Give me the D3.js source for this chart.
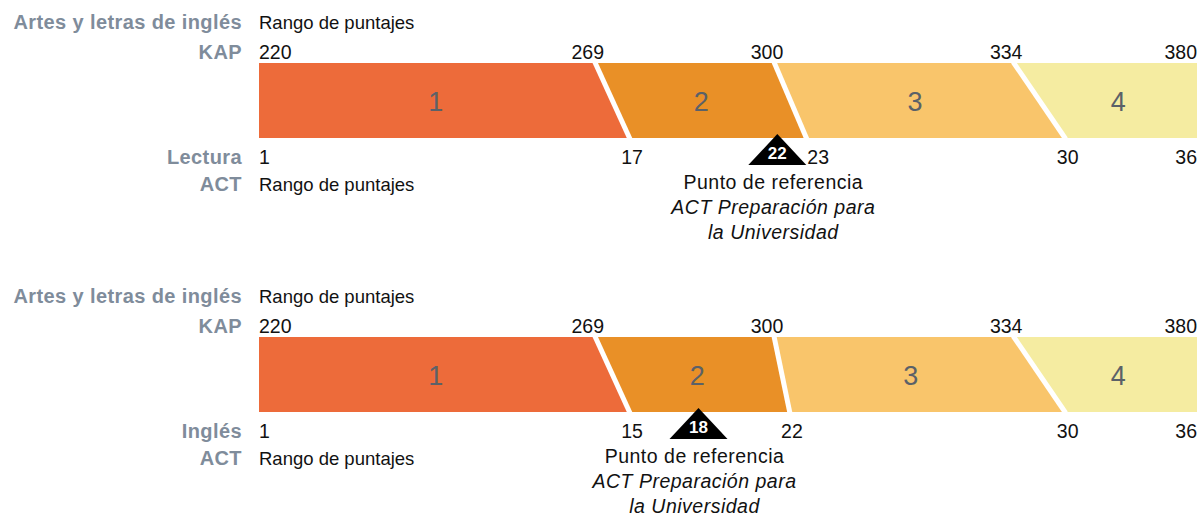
<!DOCTYPE html>
<html lang="es">
<head>
<meta charset="UTF-8">
<script src="https://cdn.jsdelivr.net/npm/d3@7/dist/d3.min.js"></script>
<style>
  body { margin: 0; background: #fff; }
  text { font-family: "Liberation Sans", Arial, Helvetica, sans-serif; }
</style>
</head>
<body>
<script>
// datos
const kapSubject = "Artes y letras de inglés";
const actSubjects = ["Lectura", "Inglés"];
const levels = ["1", "2", "3", "4"];
const kapCuts = [220, 269, 300, 334, 380];
const actCutsLectura = [1, 17, 23, 30, 36];
const actCutsIngles = [1, 15, 22, 30, 36];
const benchmarks = [22, 18];
const rangeLabel = "Rango de puntajes";
const noteLines = ["Punto de referencia", "ACT Preparación para", "la Universidad"];

// el esquema no es proporcional: fracciones del ancho de la barra para cada corte
const kapStops = [0, 0.358, 0.549, 0.804, 1];
const actStopsList = [
    [0, 0.3955, 0.584, 0.860, 1],
    [0, 0.3955, 0.566, 0.860, 1]
];
const colors = ["#ed6b3a", "#e99027", "#f9c56b", "#f5eca1"];
const grey = "#7f8c9b";

const width = 1202, height = 517;
const x0 = 259, x1 = 1197;
const barH = 75;
const panelTops = [63, 337];
const labelX = 242;

const svg = d3.select("body").append("svg").attr("width", width).attr("height", height);

const panels = [
    {act: actSubjects[0], cuts: actCutsLectura, stops: actStopsList[0], bench: benchmarks[0], top: panelTops[0]},
    {act: actSubjects[1], cuts: actCutsIngles, stops: actStopsList[1], bench: benchmarks[1], top: panelTops[1]}
];

panels.forEach(p => {
    const top = p.top, bottom = top + barH;
    const kap = d3.scaleLinear().domain(kapCuts).range(kapStops.map(f => x0 + f * (x1 - x0)));
    const act = d3.scaleLinear().domain(p.cuts).range(p.stops.map(f => x0 + f * (x1 - x0)));
    const g = svg.append("g");

    // etiquetas de la izquierda
    const left = [
        {t: kapSubject, y: top - 34},
        {t: "KAP", y: top - 4},
        {t: p.act, y: bottom + 26},
        {t: "ACT", y: bottom + 53}
    ];
    g.selectAll(".lbl").data(left).enter().append("text")
        .attr("x", labelX).attr("y", d => d.y)
        .attr("text-anchor", "end")
        .attr("fill", grey).attr("font-weight", "bold")
        .attr("font-size", 20).attr("letter-spacing", 0.4)
        .text(d => d.t);

    g.selectAll(".rng").data([top - 34, bottom + 53]).enter().append("text")
        .attr("x", x0).attr("y", d => d)
        .attr("font-size", 18.5).attr("fill", "#111")
        .text(rangeLabel);

    // bandas
    const bands = levels.map((l, i) => ({
        level: l,
        pts: [[kap(kapCuts[i]), top], [kap(kapCuts[i + 1]), top],
              [act(p.cuts[i + 1]), bottom], [act(p.cuts[i]), bottom]]
    }));
    g.selectAll(".band").data(bands).enter().append("polygon")
        .attr("points", d => d.pts.map(q => q.join(",")).join(" "))
        .attr("fill", (d, i) => colors[i]);

    // separadores blancos
    g.selectAll(".sep").data(kapCuts.slice(1, -1)).enter().append("line")
        .attr("x1", (d, i) => kap(d)).attr("y1", top - 1)
        .attr("x2", (d, i) => act(p.cuts[i + 1])).attr("y2", bottom + 1)
        .attr("stroke", "#fff").attr("stroke-width", 5);

    g.selectAll(".num").data(bands).enter().append("text")
        .attr("x", d => (d.pts[0][0] + d.pts[3][0] + d.pts[1][0] + d.pts[2][0]) / 4)
        .attr("y", top + 48)
        .attr("text-anchor", "middle")
        .attr("font-size", 27).attr("fill", "#5b6168")
        .text(d => d.level);

    // punto de referencia
    const bx = act(p.bench);
    const triW = 58, triH = 31, apex = bottom - 4;
    g.append("path")
        .attr("d", d3.line()([[bx, apex], [bx + triW / 2, apex + triH], [bx - triW / 2, apex + triH]]) + "Z")
        .attr("fill", "#000");
    g.append("text")
        .attr("x", bx).attr("y", bottom + 21)
        .attr("text-anchor", "middle").attr("font-weight", "bold")
        .attr("font-size", 17).attr("fill", "#fff")
        .text(p.bench);

    // valores KAP
    g.selectAll(".kapv").data(kapCuts).enter().append("text")
        .attr("x", (d, i) => i === 0 ? x0 : i === kapCuts.length - 1 ? x1 : kap(d) - 7)
        .attr("y", top - 4)
        .attr("text-anchor", (d, i) => i === 0 ? "start" : i === kapCuts.length - 1 ? "end" : "middle")
        .attr("font-size", 19.5).attr("fill", "#111")
        .text(d => d);

    // valores ACT
    g.selectAll(".actv").data(p.cuts).enter().append("text")
        .each(function(d, i) {
            const last = p.cuts.length - 1;
            let x = i === 0 ? x0 : i === last ? x1 : act(d) + 2;
            let anchor = i === 0 ? "start" : i === last ? "end" : "middle";
            if (i > 0 && i < last && Math.abs(act(d) - bx) < triW / 2 + 14) {
                x = bx + triW / 2 + 1; anchor = "start";
            }
            d3.select(this).attr("x", x).attr("text-anchor", anchor);
        })
        .attr("y", bottom + 26)
        .attr("font-size", 19.5).attr("fill", "#111")
        .text(d => d);

    g.selectAll(".note").data(noteLines).enter().append("text")
        .attr("x", bx - 4)
        .attr("y", (d, i) => bottom + 51 + i * 25)
        .attr("text-anchor", "middle")
        .attr("font-size", 19.5).attr("letter-spacing", 0.5).attr("fill", "#111")
        .attr("font-style", (d, i) => i === 0 ? "normal" : "italic")
        .text(d => d);
});
</script>
</body>
</html>
